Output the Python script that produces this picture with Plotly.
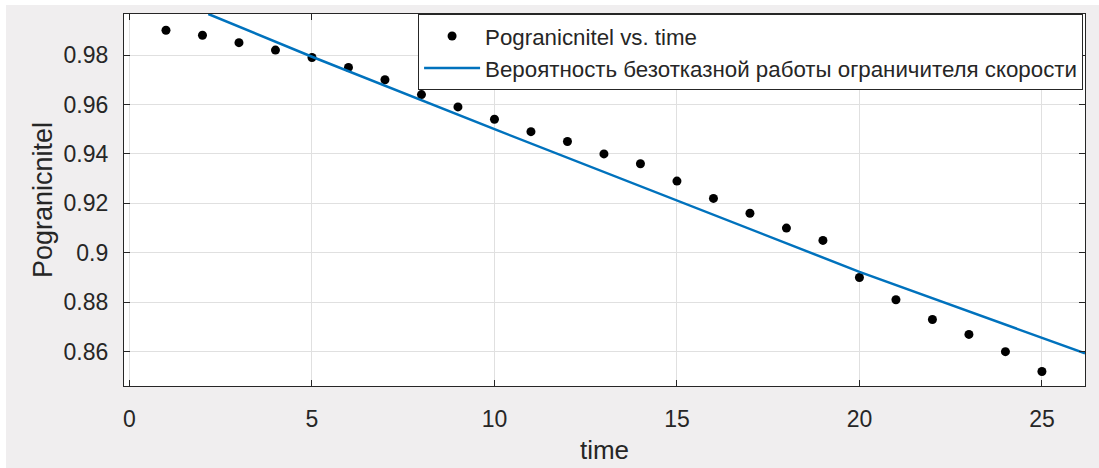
import plotly.graph_objects as go

# ---- data ----
time = [1, 2, 3, 4, 5, 6, 7, 8, 9, 10, 11, 12, 13, 14, 15, 16, 17, 18, 19, 20, 21, 22, 23, 24, 25]
pogranicnitel = [0.990, 0.988, 0.985, 0.982, 0.979, 0.975, 0.970, 0.964, 0.959, 0.954,
                 0.949, 0.945, 0.940, 0.936, 0.929, 0.922, 0.916, 0.910, 0.905, 0.890,
                 0.881, 0.873, 0.867, 0.860, 0.852]

fit_time = [2.16, 5, 10, 15, 20, 26.18]
fit_values = [0.9966, 0.9793, 0.950, 0.9213, 0.8923, 0.8593]

x_tickvals = [0, 5, 10, 15, 20, 25]
x_ticktext = ["0", "5", "10", "15", "20", "25"]
y_tickvals = [0.86, 0.88, 0.90, 0.92, 0.94, 0.96, 0.98]
y_ticktext = ["0.86", "0.88", "0.9", "0.92", "0.94", "0.96", "0.98"]

name_points = "Pogranicnitel vs. time"
name_fit = "Вероятность безотказной работы ограничителя скорости"

FONT = "Liberation Sans, Arial, sans-serif"
TXT = "#262626"
GRAY_BG = "#f0eeef"

fig = go.Figure()
fig.add_trace(go.Scatter(x=time, y=pogranicnitel, mode="markers", name=name_points,
                         marker=dict(color="black", size=9)))
fig.add_trace(go.Scatter(x=fit_time, y=fit_values, mode="lines", name=name_fit,
                         line=dict(color="#0072BD", width=2.5)))

W, H = 1099, 468
ml, mr, mt, mb = 124, 14, 14, 82
pw, ph = W - ml - mr, H - mt - mb

axis_common = dict(showline=True, linecolor=TXT, linewidth=1.3, mirror="ticks",
                   ticks="inside", ticklen=6, tickcolor=TXT, tickwidth=1.3,
                   showgrid=True, gridcolor="#e0e0e0", gridwidth=1, zeroline=False,
                   tickfont=dict(family=FONT, size=23, color=TXT))

fig.update_xaxes(range=[-0.15, 26.18], tickvals=x_tickvals, ticktext=x_ticktext,
                 ticklabelstandoff=12,
                 title=dict(text="time", font=dict(family=FONT, size=26, color=TXT), standoff=10),
                 **axis_common)
fig.update_yaxes(range=[0.84612, 0.99659], tickvals=y_tickvals, ticktext=y_ticktext,
                 ticklabelstandoff=10,
                 title=dict(text="Pogranicnitel", font=dict(family=FONT, size=27, color=TXT), standoff=3),
                 **axis_common)

# thin white frame around the grey figure area (top / left)
shapes = [
    dict(type="rect", xref="paper", yref="paper", layer="above",
         x0=-ml / pw - 0.01, x1=1 + mr / pw + 0.01, y0=(H - mb - 5) / ph, y1=1 + mt / ph + 0.01,
         fillcolor="white", line=dict(width=0)),
    dict(type="rect", xref="paper", yref="paper", layer="above",
         x0=-ml / pw - 0.01, x1=(6 - ml) / pw, y0=-mb / ph - 0.01, y1=1 + mt / ph + 0.01,
         fillcolor="white", line=dict(width=0)),
]

fig.update_layout(
    width=W, height=H,
    margin=dict(l=ml, r=mr, t=mt, b=mb, autoexpand=False),
    paper_bgcolor=GRAY_BG, plot_bgcolor="white",
    font=dict(family=FONT, color=TXT),
    showlegend=True,
    legend=dict(x=0.998, y=1, xanchor="right", yanchor="top",
                bgcolor="white", bordercolor=TXT, borderwidth=1,
                font=dict(family=FONT, size=22.3, color=TXT),
                itemwidth=56, tracegroupgap=0),
    shapes=shapes,
)

fig.write_html("out.html", config={"displayModeBar": False},
               post_script="document.body.style.margin='0';")
